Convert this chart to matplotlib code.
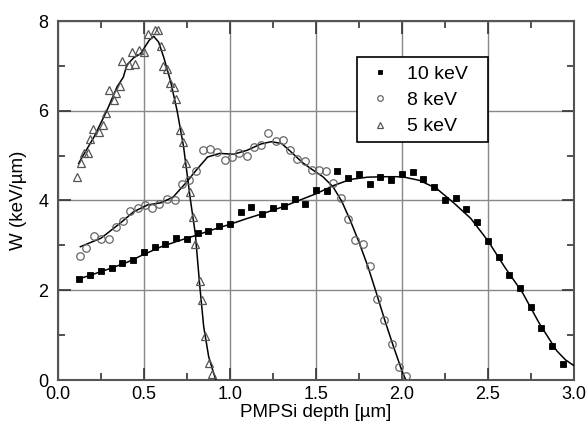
import matplotlib
matplotlib.use("Agg")
import matplotlib.pyplot as plt
from matplotlib.ticker import MultipleLocator
from matplotlib.patches import Rectangle

plt.rcParams['font.family'] = ['Liberation Sans', 'DejaVu Sans']

# ---- data ----
x10 = [0.124, 0.188, 0.25, 0.312, 0.374, 0.436, 0.50, 0.564, 0.624, 0.688, 0.75, 0.812,
       0.874, 0.936, 1.0, 1.062, 1.124, 1.186, 1.25, 1.314, 1.376, 1.438, 1.5, 1.562,
       1.624, 1.686, 1.75, 1.812, 1.874, 1.936, 2.0, 2.062, 2.124, 2.186, 2.25, 2.312,
       2.372, 2.436, 2.5, 2.562, 2.624, 2.686, 2.748, 2.81, 2.874, 2.936]
y10 = [2.24, 2.35, 2.42, 2.49, 2.60, 2.67, 2.85, 2.96, 3.04, 3.17, 3.15, 3.27,
       3.33, 3.43, 3.47, 3.74, 3.86, 3.71, 3.83, 3.88, 4.03, 3.92, 4.23, 4.21,
       4.65, 4.51, 4.59, 4.36, 4.52, 4.45, 4.59, 4.63, 4.49, 4.31, 4.00, 4.06,
       3.82, 3.51, 3.10, 2.74, 2.34, 2.05, 1.63, 1.16, 0.75, 0.36]

x8 = [0.126, 0.165, 0.209, 0.25, 0.294, 0.335, 0.378, 0.42, 0.463, 0.506, 0.548, 0.59,
      0.634, 0.678, 0.72, 0.763, 0.802, 0.843, 0.886, 0.926, 0.969, 1.012, 1.054, 1.097,
      1.137, 1.18, 1.223, 1.265, 1.308, 1.351, 1.391, 1.434, 1.474, 1.515, 1.558, 1.60,
      1.647, 1.684, 1.729, 1.772, 1.816, 1.857, 1.897, 1.94, 1.983, 2.026]
y8 = [2.77, 2.95, 3.22, 3.15, 3.15, 3.42, 3.54, 3.77, 3.83, 3.89, 3.83, 3.92,
      4.04, 4.00, 4.37, 4.45, 4.66, 5.12, 5.14, 5.08, 4.90, 4.96, 5.05, 4.99,
      5.19, 5.23, 5.51, 5.32, 5.35, 5.12, 4.92, 4.88, 4.68, 4.67, 4.66, 4.38,
      4.05, 3.58, 3.13, 3.04, 2.55, 1.80, 1.33, 0.80, 0.30, 0.08]

x5 = [0.11, 0.134, 0.149, 0.172, 0.188, 0.203, 0.236, 0.26, 0.279, 0.298, 0.323, 0.337,
      0.358, 0.372, 0.41, 0.43, 0.449, 0.469, 0.502, 0.521, 0.562, 0.579, 0.599, 0.61,
      0.634, 0.649, 0.676, 0.688, 0.707, 0.727, 0.744, 0.765, 0.782, 0.798, 0.823,
      0.837, 0.856, 0.876, 0.895]
y5 = [4.53, 4.84, 5.06, 5.05, 5.38, 5.60, 5.53, 5.68, 5.95, 6.47, 6.24, 6.40,
      6.55, 7.11, 7.03, 7.31, 7.05, 7.36, 7.31, 7.71, 7.81, 7.80, 7.44, 6.99,
      6.92, 6.61, 6.53, 6.27, 5.57, 5.31, 4.83, 4.19, 3.63, 3.04, 2.21,
      1.78, 0.99, 0.37, 0.13]

# fitted curves
fx10 = [0.12, 0.2, 0.3, 0.4, 0.5, 0.6, 0.7, 0.8, 0.9, 1.0, 1.1, 1.2, 1.3, 1.4, 1.5, 1.6,
        1.7, 1.8, 1.9, 2.0, 2.1, 2.2, 2.3, 2.4, 2.5, 2.6, 2.7, 2.8, 2.9, 2.95, 3.0]
fy10 = [2.25, 2.35, 2.48, 2.62, 2.80, 2.97, 3.10, 3.22, 3.35, 3.47, 3.60, 3.72, 3.85, 4.00,
        4.15, 4.33, 4.47, 4.52, 4.53, 4.53, 4.45, 4.27, 3.95, 3.60, 3.10, 2.50, 1.95,
        1.25, 0.65, 0.45, 0.32]

fx8 = [0.13, 0.25, 0.36, 0.44, 0.52, 0.60, 0.67, 0.75, 0.80, 0.87, 0.94, 1.02, 1.10, 1.18,
       1.24, 1.30, 1.35, 1.42, 1.47, 1.54, 1.60, 1.65, 1.70, 1.75, 1.80, 1.85, 1.90, 1.95,
       2.00, 2.02]
fy8 = [2.97, 3.16, 3.49, 3.75, 3.90, 3.95, 4.08, 4.42, 4.66, 4.97, 5.05, 5.03, 5.12, 5.26,
       5.31, 5.27, 5.10, 4.85, 4.71, 4.53, 4.30, 3.98, 3.55, 3.07, 2.55, 1.95, 1.33, 0.75,
       0.20, 0.02]

fx5 = [0.12, 0.21, 0.285, 0.343, 0.38, 0.40, 0.44, 0.48, 0.53, 0.556, 0.585, 0.614, 0.653,
       0.692, 0.73, 0.76, 0.77, 0.798, 0.823, 0.847, 0.876, 0.905, 0.918]
fy5 = [4.83, 5.42, 6.01, 6.53, 6.75, 7.02, 7.18, 7.27, 7.57, 7.66, 7.53, 7.20, 6.68,
       6.01, 5.20, 4.31, 4.01, 3.27, 2.15, 1.19, 0.52, 0.15, 0.0]

labels = ['10 keV', '8 keV', '5 keV']
xticks = [0.0, 0.5, 1.0, 1.5, 2.0, 2.5, 3.0]
xticklabels = ['0.0', '0.5', '1.0', '1.5', '2.0', '2.5', '3.0']
yticks = [0, 2, 4, 6, 8]

# ---- figure ----
W, H = 587, 423
fig = plt.figure(figsize=(W / 100, H / 100), dpi=100)
L, R, T, B = 58, 574, 21, 380
ax = fig.add_axes([L / W, 1 - B / H, (R - L) / W, (B - T) / H])

lc = 'black'
ax.plot(fx10, fy10, color=lc, lw=1.1, zorder=3)
ax.plot(fx8, fy8, color=lc, lw=1.1, zorder=3)
ax.plot(fx5, fy5, color=lc, lw=1.1, zorder=3)

ax.plot(x10, y10, ls='none', marker='s', ms=4.6, mfc='black', mec='black', mew=0.6,
        label=labels[0], zorder=4)
ax.plot(x8, y8, ls='none', marker='o', ms=5.4, mfc='none', mec='#666666', mew=0.9,
        label=labels[1], zorder=4)
ax.plot(x5, y5, ls='none', marker='^', ms=6.4, mfc='none', mec='#555555', mew=0.9,
        label=labels[2], zorder=4)

ax.set_xlim(0, 3.0)
ax.set_ylim(0, 8)
ax.set_xticks(xticks)
ax.set_xticklabels(xticklabels)
ax.set_yticks(yticks)
ax.xaxis.set_minor_locator(MultipleLocator(0.25))
ax.yaxis.set_minor_locator(MultipleLocator(1))
ax.tick_params(which='both', direction='in', top=True, right=True, labelsize=13,
               colors='#333333', labelcolor='black')
ax.tick_params(which='major', length=9, width=1.2)
ax.tick_params(axis='x', which='major', pad=4)
ax.tick_params(axis='y', which='major', pad=7)
ax.tick_params(which='minor', length=5, width=1.2)
ax.grid(True, which='major', color='#888888', lw=1.0, zorder=0)
ax.set_axisbelow(True)
for s in ax.spines.values():
    s.set_color('#555555')
    s.set_linewidth(1.5)

ax.set_xlabel('PMPSi depth [µm]', fontsize=13.5, labelpad=1)
ax.set_ylabel('W (keV/µm)', fontsize=13.5, labelpad=8)

# legend frame drawn explicitly, entries placed inside it
def fx(px):
    return (px - L) / (R - L)

def fy(py):
    return (B - py) / (B - T)

frame = Rectangle((fx(357), fy(142)), fx(488) - fx(357), fy(57) - fy(142),
                  transform=ax.transAxes, facecolor='white', edgecolor='black',
                  lw=1.2, zorder=5)
ax.add_patch(frame)
leg = ax.legend(loc='upper left', bbox_to_anchor=(fx(366), fy(65)),
                borderaxespad=0, frameon=False, fontsize=14, markerscale=0.75,
                handlelength=1.4, handletextpad=0.7, borderpad=0.0, labelspacing=0.45)
leg.set_zorder(6)

fig.savefig('out.png', dpi=100)
